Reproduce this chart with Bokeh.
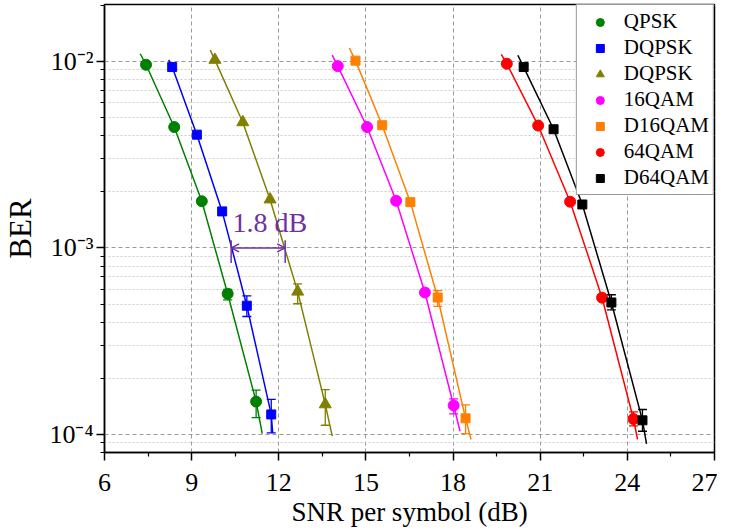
from bokeh.plotting import figure
from bokeh.models import (FixedTicker, CustomJSTickFormatter, Legend, LegendItem, Whisker,
                          ColumnDataSource, TeeHead, Arrow, OpenHead, Label, Range1d)
from bokeh.embed import file_html
from bokeh.resources import INLINE

# ---------------- data ----------------
names = ["QPSK", "DQPSK", "DQPSK", "16QAM", "D16QAM", "64QAM", "D64QAM"]
colors = ["#008000", "#0000ff", "#808000", "#ff00ff", "#ff8000", "#ff0000", "#000000"]
markers = ["circle", "square", "triangle", "circle", "square", "circle", "square"]

qpsk_snr = [7.43, 8.40, 9.35, 10.24, 11.22]
qpsk_ber = [9.6e-3, 4.45e-3, 1.78e-3, 5.68e-4, 1.50e-4]
dqpsk_snr = [8.33, 9.18, 10.05, 10.90, 11.74]
dqpsk_ber = [9.33e-3, 4.05e-3, 1.57e-3, 4.90e-4, 1.28e-4]
dqpsk2_snr = [9.80, 10.76, 11.70, 12.65, 13.60]
dqpsk2_ber = [1.02e-2, 4.72e-3, 1.82e-3, 5.83e-4, 1.45e-4]
qam16_snr = [14.03, 15.04, 16.04, 17.03, 18.02]
qam16_ber = [9.44e-3, 4.45e-3, 1.79e-3, 5.77e-4, 1.43e-4]
dqam16_snr = [14.64, 15.56, 16.53, 17.47, 18.43]
dqam16_ber = [1.01e-2, 4.55e-3, 1.76e-3, 5.42e-4, 1.22e-4]
qam64_snr = [19.85, 20.93, 22.03, 23.13, 24.21]
qam64_ber = [9.72e-3, 4.53e-3, 1.77e-3, 5.41e-4, 1.21e-4]
dqam64_snr = [20.43, 21.46, 22.45, 23.45, 24.52]
dqam64_ber = [9.33e-3, 4.33e-3, 1.71e-3, 5.10e-4, 1.19e-4]

# fitted-curve end points (start, end)
fit_start_snr = [7.23, 8.21, 9.64, 13.84, 14.43, 19.66, 20.23]
fit_start_ber = [1.10e-2, 1.02e-2, 1.15e-2, 1.08e-2, 1.18e-2, 1.09e-2, 1.08e-2]
fit_end_snr = [11.43, 11.79, 13.84, 18.24, 18.62, 24.35, 24.66]
fit_end_ber = [1.01e-4, 1.02e-4, 9.8e-5, 1.04e-4, 9.4e-5, 9.4e-5, 8.9e-5]

# error bars: (point index, upper, lower)
qpsk_err = [(3, 6.0e-4, 5.27e-4), (4, 1.73e-4, 1.23e-4)]
dqpsk_err = [(3, 5.53e-4, 4.29e-4), (4, 1.54e-4, 1.02e-4)]
dqpsk2_err = [(3, 6.41e-4, 5.02e-4), (4, 1.74e-4, 1.12e-4)]
qam16_err = [(4, 1.55e-4, 1.29e-4)]
dqam16_err = [(3, 5.91e-4, 4.86e-4), (4, 1.44e-4, 1.01e-4)]
qam64_err = [(4, 1.32e-4, 1.11e-4)]
dqam64_err = [(3, 5.61e-4, 4.66e-4), (4, 1.36e-4, 1.04e-4)]

x_ticks = [6, 9, 12, 15, 18, 21, 24, 27]
x_minor_ticks = [7.5, 10.5, 13.5, 16.5, 19.5, 22.5, 25.5]
y_ticks = [1e-4, 1e-3, 1e-2]
y_tick_labels = ["10\u207b\u2074", "10\u207b\u00b3", "10\u207b\u00b2"]
y_minor_ticks = [m * 10.0 ** e for e in (-5, -4, -3, -2) for m in range(2, 10)]

gap_snr = [10.36, 12.22]
gap_ber = 1.0e-3
gap_text = "1.8 dB"

snr_all = [qpsk_snr, dqpsk_snr, dqpsk2_snr, qam16_snr, dqam16_snr, qam64_snr, dqam64_snr]
ber_all = [qpsk_ber, dqpsk_ber, dqpsk2_ber, qam16_ber, dqam16_ber, qam64_ber, dqam64_ber]
err_all = [qpsk_err, dqpsk_err, dqpsk2_err, qam16_err, dqam16_err, qam64_err, dqam64_err]

# ---------------- figure ----------------
SERIF = "Times New Roman"
p = figure(frame_width=610, frame_height=448, y_axis_type="log",
           x_range=Range1d(6, 27), y_range=Range1d(8.0e-5, 2.02e-2),
           output_backend="svg", toolbar_location=None,
           min_border_left=104, min_border_right=3, min_border_top=4, min_border_bottom=0)
p.background_fill_color = "white"
p.outline_line_color = "black"
p.outline_line_width = 1.5

# grids
p.xgrid.grid_line_color = "#9a9a9a"
p.xgrid.grid_line_dash = "4 3"
p.ygrid.grid_line_color = "#9a9a9a"
p.ygrid.grid_line_dash = "4 3"
p.ygrid.minor_grid_line_color = "#cccccc"
p.ygrid.minor_grid_line_dash = "2 2"

# axes
p.xaxis.ticker = FixedTicker(ticks=x_ticks, minor_ticks=x_minor_ticks)
p.yaxis.ticker = FixedTicker(ticks=y_ticks, minor_ticks=y_minor_ticks)
p.yaxis.formatter = CustomJSTickFormatter(args=dict(vals=y_ticks, labs=y_tick_labels), code="""
let best = 0, d = Infinity;
for (let i = 0; i < vals.length; i++) {
  const dd = Math.abs(Math.log10(tick) - Math.log10(vals[i]));
  if (dd < d) { d = dd; best = i; }
}
return labs[best];
""")
for ax in (p.xaxis[0], p.yaxis[0]):
    ax.axis_line_width = 1.5
    ax.axis_line_color = "black"
    ax.major_tick_line_width = 1.5
    ax.major_tick_out = 8
    ax.major_tick_in = 0
    ax.minor_tick_line_width = 1.2
    ax.minor_tick_out = 4
    ax.minor_tick_in = 0
    ax.major_label_text_font = SERIF
    ax.major_label_text_font_size = "26px"
    ax.major_label_text_color = "black"
    ax.axis_label_text_font = SERIF
    ax.axis_label_text_font_style = "normal"
    ax.axis_label_text_color = "black"

p.xaxis.axis_label = "SNR per symbol (dB)"
p.xaxis.axis_label_text_font_size = "27px"
p.xaxis.major_label_standoff = 13
p.xaxis.axis_label_standoff = 3
p.yaxis.axis_label = "BER"
p.yaxis.axis_label_text_font_size = "31px"
p.yaxis.major_label_standoff = 3
p.yaxis.axis_label_standoff = 8

# series
items = []
for i in range(len(names)):
    xs = [fit_start_snr[i]] + snr_all[i] + [fit_end_snr[i]]
    ys = [fit_start_ber[i]] + ber_all[i] + [fit_end_ber[i]]
    p.line(xs, ys, line_color=colors[i], line_width=1.5)
    errs = err_all[i]
    if errs:
        src = ColumnDataSource(dict(base=[snr_all[i][k] for k, _, _ in errs],
                                    upper=[u for _, u, _ in errs],
                                    lower=[l for _, _, l in errs]))
        w = Whisker(source=src, base="base", upper="upper", lower="lower", dimension="height",
                    line_color=colors[i], line_width=1.3,
                    upper_head=TeeHead(size=9, line_color=colors[i], line_width=1.3),
                    lower_head=TeeHead(size=9, line_color=colors[i], line_width=1.3))
        p.add_layout(w)
    size = {"circle": 11, "square": 9, "triangle": 12}[markers[i]]
    r = p.scatter(snr_all[i], ber_all[i], marker=markers[i], size=size,
                  fill_color=colors[i], line_color=colors[i])
    items.append(LegendItem(label=names[i], renderers=[r]))

legend = Legend(items=items, location="top_right", padding=4, margin=0,
                glyph_width=38, glyph_height=20, label_standoff=5, spacing=1,
                label_text_font=SERIF, label_text_font_size="21px",
                label_text_color="black", border_line_color="#333333",
                border_line_width=1, background_fill_color="white", background_fill_alpha=1)
p.add_layout(legend)

# 1.8 dB annotation
purple = "#7030a0"
p.add_layout(Arrow(x_start=gap_snr[0], y_start=gap_ber, x_end=gap_snr[1], y_end=gap_ber,
                   line_color=purple, line_width=1.5,
                   start=OpenHead(size=8, line_color=purple, line_width=1.5),
                   end=OpenHead(size=8, line_color=purple, line_width=1.5)))
p.segment(x0=gap_snr, y0=[8.3e-4, 8.3e-4], x1=gap_snr, y1=[1.1e-3, 1.1e-3],
          line_color=purple, line_width=1.5)
p.add_layout(Label(x=10.41, y=1.37e-3, text=gap_text, text_font=SERIF,
                   text_font_size="28px", text_color=purple, text_baseline="alphabetic"))

open("out.html", "w").write(file_html(p, INLINE))
